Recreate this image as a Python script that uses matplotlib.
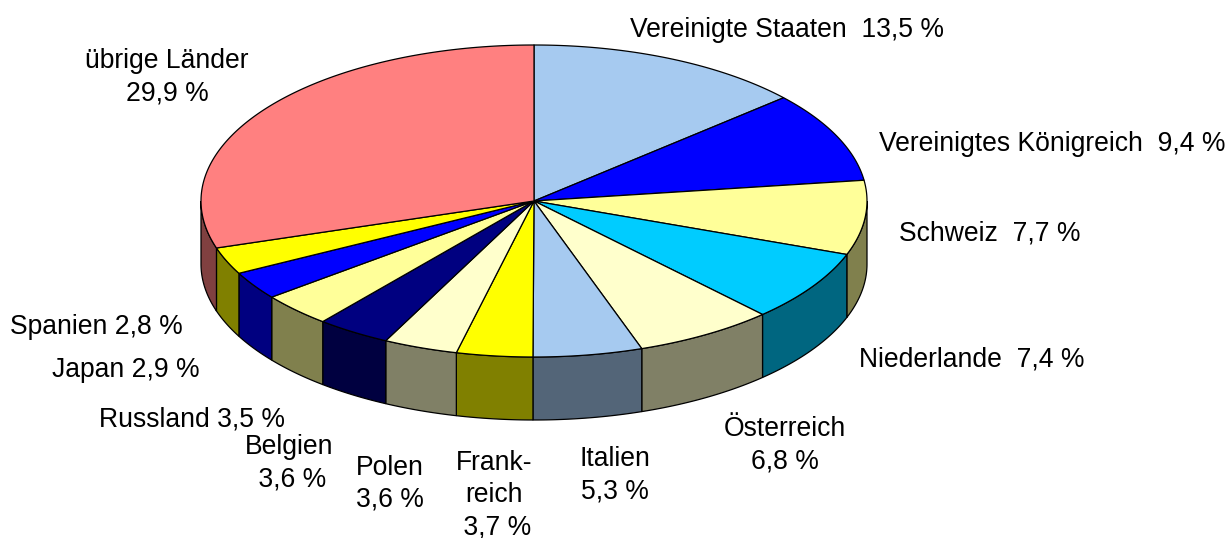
import numpy as np
import matplotlib
matplotlib.use("Agg")
import matplotlib.pyplot as plt
from matplotlib.patches import Polygon

categories = ["Vereinigte Staaten", "Vereinigtes Königreich", "Schweiz", "Niederlande",
              "Österreich", "Italien", "Frankreich", "Polen", "Belgien", "Russland",
              "Japan", "Spanien", "übrige Länder"]
values = [13.5, 9.4, 7.7, 7.4, 6.8, 5.3, 3.7, 3.6, 3.6, 3.5, 2.9, 2.8, 29.9]
top_colors = ["#A6CAF0", "#0000FF", "#FFFF99", "#00CCFF", "#FFFFCC", "#A6CAF0", "#FFFF00",
              "#FFFFCC", "#000080", "#FFFF99", "#0000FF", "#FFFF00", "#FF8080"]
side_colors = ["#536578", "#000080", "#80804D", "#006680", "#808066", "#536578", "#808000",
               "#808066", "#000040", "#80804D", "#000080", "#808000", "#804040"]
label_texts = ["Vereinigte Staaten  13,5 %", "Vereinigtes Königreich  9,4 %", "Schweiz  7,7 %",
               "Niederlande  7,4 %", "Österreich\n6,8 %", "Italien\n5,3 %", "Frank-\nreich\n 3,7 %",
               "Polen\n3,6 %", "Belgien\n 3,6 %", "Russland 3,5 %", "Japan 2,9 %", "Spanien 2,8 %",
               "übrige Länder\n29,9 %"]
label_pos = [(787, 30), (1052, 144), (990, 234), (972, 359), (785, 445), (615, 475),
             (494, 495), (390, 484), (289, 463), (192, 419), (126, 370), (96, 327), (167, 77)]

W, H = 1229, 538
CX, CY, RX, RY, DEPTH = 534, 201, 333, 156, 63

plt.rcParams["font.family"] = ["Liberation Sans", "DejaVu Sans"]
fig = plt.figure(figsize=(W / 100, H / 100), dpi=100, facecolor="white")
ax = fig.add_axes([0, 0, 1, 1])
ax.set_xlim(0, W)
ax.set_ylim(H, 0)
ax.axis("off")


def rim(a0, a1):
    t = np.linspace(a0, a1, max(2, int((a1 - a0) * 120) + 2))
    return CX + RX * np.sin(t), CY - RY * np.cos(t)


bounds = 2 * np.pi * np.concatenate([[0], np.cumsum(values)]) / np.sum(values)
for a0, a1, tc, sc in zip(bounds[:-1], bounds[1:], top_colors, side_colors):
    lo, hi = max(a0, np.pi / 2), min(a1, 3 * np.pi / 2)
    if lo < hi:
        x, y = rim(lo, hi)
        pts = np.r_[np.c_[x, y], np.c_[x[::-1], y[::-1] + DEPTH]]
        ax.add_patch(Polygon(pts, closed=True, fc=sc, ec="black", lw=0.9, zorder=1))
for a0, a1, tc in zip(bounds[:-1], bounds[1:], top_colors):
    x, y = rim(a0, a1)
    pts = np.r_[[[CX, CY]], np.c_[x, y]]
    ax.add_patch(Polygon(pts, closed=True, fc=tc, ec="black", lw=0.9, joinstyle="round", zorder=2))

for (lx, ly), s in zip(label_pos, label_texts):
    ax.text(lx, ly, s, ha="center", va="center", fontsize=19.1, color="black",
            linespacing=1.3, zorder=3)

fig.savefig("out.png", dpi=100)
